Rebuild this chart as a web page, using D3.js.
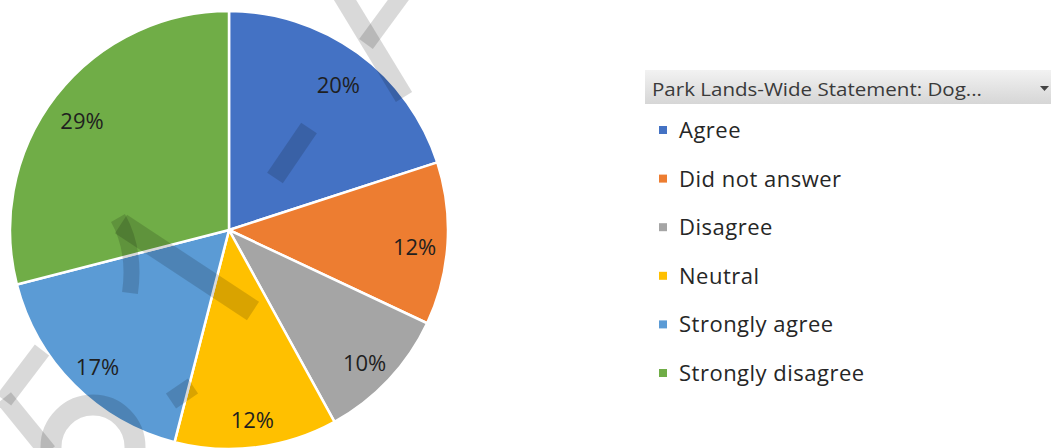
<!DOCTYPE html>
<html>
<head>
<meta charset="utf-8">
<script src="https://cdn.jsdelivr.net/npm/d3@7"></script>
<style>
  body { margin: 0; background: #fff; }
  svg { display: block; font-family: "Open Sans", sans-serif; }
</style>
</head>
<body>
<svg id="chart" width="1051" height="448"></svg>
<script>
const categories = ["Agree", "Did not answer", "Disagree", "Neutral", "Strongly agree", "Strongly disagree"];
const values = [20, 12, 10, 12, 17, 29];
const colors = ["#4472C4", "#ED7D31", "#A5A5A5", "#FFC000", "#5B9BD5", "#70AD47"];
const legendTitle = "Park Lands-Wide Statement:  Dog...";

const svg = d3.select("#chart");
const cx = 229, cy = 230, radius = 219;

const color = d3.scaleOrdinal().domain(categories).range(colors);
const data = categories.map((c, i) => ({ name: c, value: values[i] }));

const pie = d3.pie().sort(null).value(d => d.value);
const arcs = pie(data);
const arc = d3.arc().innerRadius(0).outerRadius(radius);
const labelArc = d3.arc().innerRadius(186).outerRadius(186);
const total = d3.sum(values);

const g = svg.append("g").attr("transform", `translate(${cx},${cy})`);

g.selectAll("path.slice")
  .data(arcs)
  .join("path")
  .attr("class", "slice")
  .attr("d", arc)
  .attr("fill", d => color(d.data.name))
  .attr("stroke", "#fff")
  .attr("stroke-width", 2.5)
  .attr("stroke-linejoin", "round");

g.selectAll("text.pct")
  .data(arcs)
  .join("text")
  .attr("class", "pct")
  .attr("transform", d => `translate(${labelArc.centroid(d)})`)
  .attr("text-anchor", "middle")
  .attr("dy", "0.6em")
  .attr("font-size", 22)
  .attr("fill", "#1f1f1f")
  .text(d => Math.round(d.data.value / total * 100) + "%");

// faint watermark strokes laid over the picture
const wm = svg.append("g")
  .attr("stroke", "#000")
  .attr("stroke-opacity", 0.15)
  .attr("fill", "none")
  .attr("stroke-linecap", "butt");
const wmLines = [
  [342, -5, 404, 97, 19],
  [402, -5, 366, 44, 17],
  [275, 178, 309, 128, 19],
  [121, 224, 253, 311, 22],
  [42, 350, 4, 400, 18],
  [4, 398, 48, 452, 18],
  [171, 401, 193, 386, 18]
];
wm.selectAll("line")
  .data(wmLines)
  .join("line")
  .attr("x1", d => d[0]).attr("y1", d => d[1])
  .attr("x2", d => d[2]).attr("y2", d => d[3])
  .attr("stroke-width", d => d[4]);
wm.append("path")
  .attr("d", "M118,218 Q136,250 130,293")
  .attr("stroke-width", 16);
wm.append("circle")
  .attr("cx", 93).attr("cy", 447).attr("r", 42)
  .attr("stroke-width", 21);

// legend header (filter drop-down look)
const defs = svg.append("defs");
const grad = defs.append("linearGradient")
  .attr("id", "hdr").attr("x1", 0).attr("y1", 0).attr("x2", 0).attr("y2", 1);
grad.append("stop").attr("offset", "0%").attr("stop-color", "#f2f2f2");
grad.append("stop").attr("offset", "100%").attr("stop-color", "#d6d6d6");

const legend = svg.append("g");
legend.append("rect")
  .attr("x", 645).attr("y", 70)
  .attr("width", 406).attr("height", 34)
  .attr("fill", "url(#hdr)");
legend.append("text")
  .attr("x", 652).attr("y", 96)
  .attr("font-size", 18)
  .attr("fill", "#3a3a3a")
  .attr("textLength", 330)
  .attr("lengthAdjust", "spacingAndGlyphs")
  .text(legendTitle);
legend.append("path")
  .attr("d", "M1040,86 L1049,86 L1044.5,91 Z")
  .attr("fill", "#444");

const rowY = d3.scalePoint().domain(categories).range([130, 373]);
const rows = legend.selectAll("g.item")
  .data(categories)
  .join("g")
  .attr("class", "item")
  .attr("transform", d => `translate(659,${rowY(d)})`);
rows.append("rect")
  .attr("x", 0).attr("y", -4)
  .attr("width", 8).attr("height", 8)
  .attr("fill", d => color(d));
rows.append("text")
  .attr("x", 20)
  .attr("dy", "0.36em")
  .attr("font-size", 22)
  .attr("letter-spacing", "0.5px")
  .attr("fill", "#262626")
  .text(d => d);
</script>
</body>
</html>
